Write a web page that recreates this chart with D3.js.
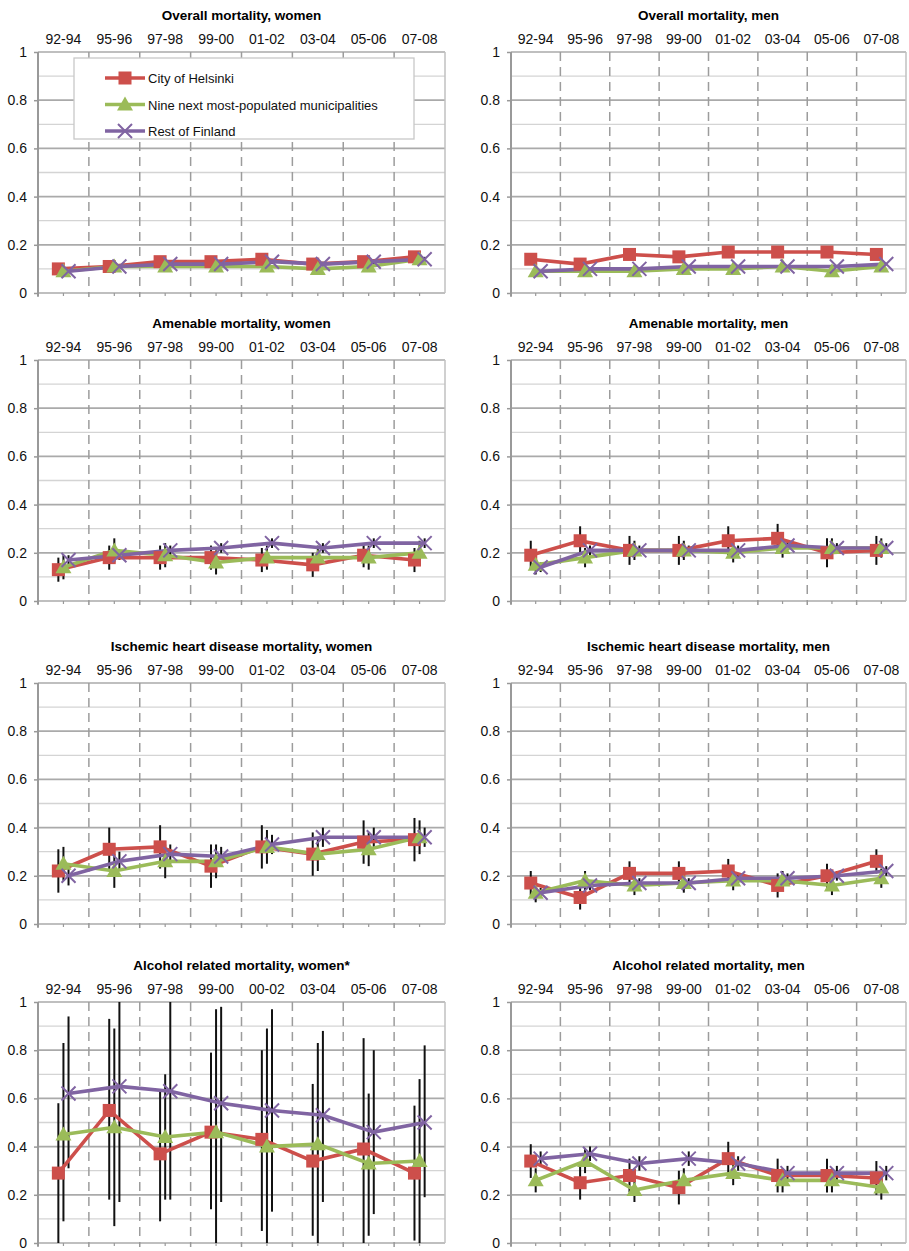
<!DOCTYPE html>
<html><head><meta charset="utf-8">
<script src="https://cdn.jsdelivr.net/npm/d3@7"></script>
<style>body{margin:0;background:#fff}svg{font-family:"Liberation Sans",Arial,sans-serif}</style>
</head><body><svg id="c" width="909" height="1251"></svg>
<script>
const cats = ["92-94","95-96","97-98","99-00","01-02","03-04","05-06","07-08"];
const catsAlcW = ["92-94","95-96","97-98","99-00","00-02","03-04","05-06","07-08"];
const seriesNames = ["City of Helsinki","Nine next most-populated municipalities","Rest of Finland"];
const yTicks = [0,0.2,0.4,0.6,0.8,1];
const titles = ["Overall mortality, women","Overall mortality, men","Amenable mortality, women","Amenable mortality, men","Ischemic heart disease mortality, women","Ischemic heart disease mortality, men","Alcohol related mortality, women*","Alcohol related mortality, men"];
// values [Helsinki, Nine, Rest]
const overallW = [[.10,.11,.13,.13,.14,.12,.13,.15],[.09,.11,.11,.11,.11,.10,.11,.14],[.09,.11,.12,.12,.13,.12,.13,.14]];
const overallM = [[.14,.12,.16,.15,.17,.17,.17,.16],[.09,.09,.09,.10,.10,.11,.09,.11],[.09,.10,.10,.11,.11,.11,.11,.12]];
const amenW = [[.13,.18,.18,.18,.17,.15,.19,.17],[.14,.21,.19,.16,.18,.18,.18,.20],[.17,.19,.21,.22,.24,.22,.24,.24]];
const amenM = [[.19,.25,.21,.21,.25,.26,.20,.21],[.15,.18,.21,.21,.20,.22,.22,.22],[.14,.21,.21,.21,.21,.23,.22,.22]];
const ihdW = [[.22,.31,.32,.24,.32,.29,.34,.35],[.25,.22,.26,.26,.32,.29,.31,.36],[.20,.26,.29,.28,.33,.36,.36,.36]];
const ihdM = [[.17,.11,.21,.21,.22,.16,.20,.26],[.13,.18,.16,.17,.18,.18,.16,.19],[.13,.16,.17,.17,.19,.19,.20,.22]];
const alcW = [[.29,.55,.37,.46,.43,.34,.39,.29],[.45,.48,.44,.46,.40,.41,.33,.34],[.62,.65,.63,.58,.55,.53,.46,.50]];
const alcM = [[.34,.25,.28,.23,.35,.28,.28,.27],[.26,.34,.22,.26,.29,.26,.26,.23],[.35,.37,.33,.35,.33,.29,.29,.29]];
// confidence interval half-widths per series (symmetric) or explicit [lo,hi]
const ciOverallW = [.02,.02,.01], ciOverallM = [.01,.01,.005];
const ciAmenW = [.05,.05,.02], ciAmenM = [.06,.04,.02];
const ciIhdW = [.09,.07,.04], ciIhdM = [.05,.04,.02];
const ciAlcM = [.07,.05,.03];
const alcWLo = [[0,.18,.09,.14,.05,.03,0,.01],[.09,.07,.18,0,0,0,.03,0],[.31,.17,.18,.17,.13,.17,.12,.19]];
const alcWHi = [[.58,.93,.63,.79,.80,.66,.85,.57],[.83,.89,.70,.97,.89,.83,.62,.68],[.94,1,1,.98,.97,.88,.80,.82]];

const colors = ["#cd4f4b","#9bbb59","#8064a2"];
const svg = d3.select("#c");
const tops = [52,360,683,1002], H = 241;
const lefts = [[38,445],[511,906]];
const panels = [
 {v:overallW,ci:ciOverallW,c:cats},{v:overallM,ci:ciOverallM,c:cats},
 {v:amenW,ci:ciAmenW,c:cats},{v:amenM,ci:ciAmenM,c:cats},
 {v:ihdW,ci:ciIhdW,c:cats},{v:ihdM,ci:ciIhdM,c:cats},
 {v:alcW,lo:alcWLo,hi:alcWHi,c:catsAlcW},{v:alcM,ci:ciAlcM,c:cats}];
const offs = [0.4,0.5,0.6];

panels.forEach((p,i)=>{
  const [x0,x1] = lefts[i%2], top = tops[Math.floor(i/2)];
  const x = d3.scaleBand().domain(p.c).range([x0,x1]);
  const y = d3.scaleLinear().domain([0,1]).range([top+H,top]);
  const g = svg.append("g");
  d3.range(0,11).forEach(k=>{
    const v=k/10;
    g.append("line").attr("x1",x0).attr("x2",x1).attr("y1",y(v)).attr("y2",y(v))
     .attr("stroke", k%2? "#d4d4d4":"#aaaaaa").attr("stroke-width",k%2?1.3:1.7);
  });
  p.c.forEach((c,j)=>{ if(j>0) g.append("line").attr("x1",x(c)).attr("x2",x(c)).attr("y1",top).attr("y2",top+H)
     .attr("stroke","#9c9c9c").attr("stroke-width",1.5).attr("stroke-dasharray","9,6");});
  g.append("line").attr("x1",x1).attr("x2",x1).attr("y1",top).attr("y2",top+H).attr("stroke","#c0c0c0").attr("stroke-width",1.5);
  g.append("line").attr("x1",x0).attr("x2",x0).attr("y1",top).attr("y2",top+H+3).attr("stroke","#999").attr("stroke-width",2);
  const ya = d3.axisLeft(y).tickValues(yTicks).tickFormat(d=>d===0?"0":d===1?"1":d3.format(".1f")(d)).tickSize(4);
  const ag = g.append("g").attr("transform",`translate(${x0},0)`).call(ya);
  ag.select(".domain").remove();
  ag.selectAll("line").attr("stroke","#999").attr("stroke-width",1.5);
  ag.selectAll("text").attr("font-size",14).attr("fill","#111").attr("dx",-4);
  p.c.forEach(c=>{
    g.append("line").attr("x1",x(c)).attr("x2",x(c)).attr("y1",top+H).attr("y2",top+H+4).attr("stroke","#999").attr("stroke-width",1.5);
    g.append("line").attr("x1",x(c)+x.bandwidth()*0.5).attr("x2",x(c)+x.bandwidth()*0.5).attr("y1",top+H).attr("y2",top+H+3).attr("stroke","#999").attr("stroke-width",1.2);
  });
  const xa = d3.axisTop(x).tickSize(0);
  const xg = g.append("g").attr("transform",`translate(0,${top-5})`).call(xa);
  xg.select(".domain").remove();
  xg.selectAll("text").attr("font-size",14).attr("fill","#111");
  g.append("text").attr("x",(x0+x1)/2).attr("y",top-32).attr("text-anchor","middle")
   .attr("font-size",13.5).attr("font-weight","bold").text(titles[i]);
  const plot = g.append("g");
  const clipId="cl"+i;
  svg.append("clipPath").attr("id",clipId).append("rect").attr("x",x0-10).attr("y",top).attr("width",x1-x0+20).attr("height",H+1);
  plot.attr("clip-path",`url(#${clipId})`);
  const px = (s,j)=>x(p.c[j])+x.bandwidth()*offs[s];
  p.v.forEach((vals,s)=>vals.forEach((v,j)=>{
    const lo = p.lo? p.lo[s][j] : v-p.ci[s], hi = p.hi? p.hi[s][j] : v+p.ci[s];
    plot.append("line").attr("x1",px(s,j)).attr("x2",px(s,j)).attr("y1",y(Math.max(0,lo))).attr("y2",y(Math.min(1,hi)))
      .attr("stroke","#111").attr("stroke-width",2);
  }));
  p.v.forEach((vals,s)=>{
    const line = d3.line().x((d,j)=>px(s,j)).y(d=>y(d));
    plot.append("path").datum(vals).attr("d",line).attr("fill","none").attr("stroke",colors[s]).attr("stroke-width",3.6);
  });
  p.v.forEach((vals,s)=>vals.forEach((v,j)=>drawMarker(plot,s,px(s,j),y(v))));
});

function drawMarker(g,s,cx,cy){
  if(s===0) g.append("rect").attr("x",cx-6.5).attr("y",cy-6.5).attr("width",13).attr("height",13).attr("fill",colors[0]);
  else if(s===1) g.append("path").attr("d",`M${cx},${cy-8}L${cx+8},${cy+6}L${cx-8},${cy+6}Z`).attr("fill",colors[1]);
  else g.append("path").attr("d",`M${cx-7},${cy-7}L${cx+7},${cy+7}M${cx+7},${cy-7}L${cx-7},${cy+7}`).attr("stroke",colors[2]).attr("stroke-width",2);
}

const lg = svg.append("g");
lg.append("rect").attr("x",74).attr("y",58).attr("width",340).attr("height",81).attr("fill","#fff").attr("stroke","#c8c8c8").attr("stroke-width",1.3);
seriesNames.forEach((n,s)=>{
  const yy = 78+s*26.5;
  lg.append("line").attr("x1",105).attr("x2",145).attr("y1",yy).attr("y2",yy).attr("stroke",colors[s]).attr("stroke-width",3.6);
  drawMarker(lg,s,125,yy);
  lg.append("text").attr("x",148).attr("y",yy+5).attr("font-size",13).attr("fill","#111").text(n);
});
</script></body></html>
